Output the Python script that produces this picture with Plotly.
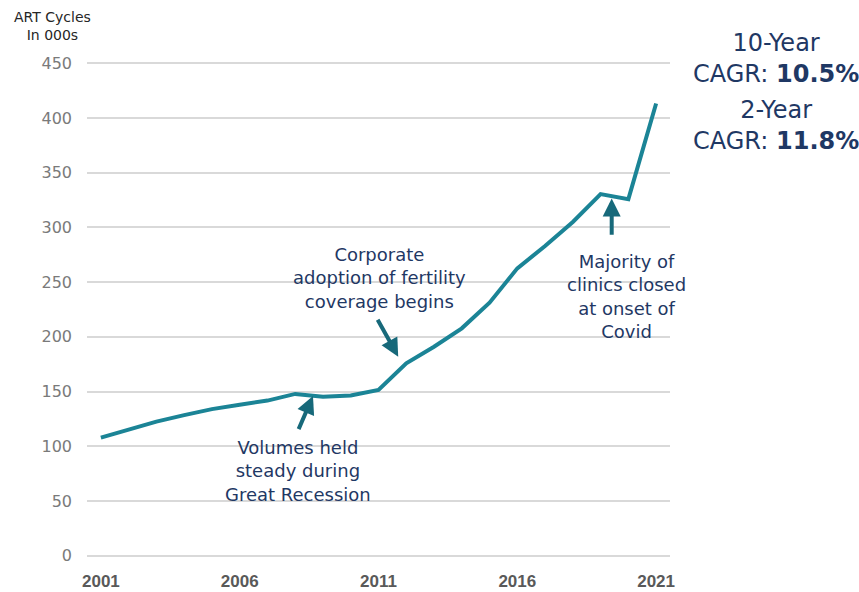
import plotly.graph_objects as go

# ART cycles per year (thousands)
years = list(range(2001, 2022))
cycles = [108, 115, 122.6, 128.5, 134, 138, 141.8, 147.9, 145.3, 146.5, 151.5,
          175.9, 191, 207.8, 231.2, 262.6, 283, 305, 330.4, 325.8, 413.2]

y_ticks = [0, 50, 100, 150, 200, 250, 300, 350, 400, 450]
x_ticks = [2001, 2006, 2011, 2016, 2021]

LINE = "#1b8496"
ARROW = "#17697a"
NAVY = "#1f3864"
TXT_FONT = "DejaVu Sans"

fig = go.Figure()
fig.add_trace(go.Scatter(
    x=years, y=cycles, mode="lines",
    line=dict(color=LINE, width=4), hoverinfo="skip", showlegend=False,
))

anns = []

# callout texts
callouts = [
    (2008.1, 77.6, "Volumes held<br>steady during<br>Great Recession"),
    (2011.05, 253.7, "Corporate<br>adoption of fertility<br>coverage begins"),
    (2019.95, 237.3, "Majority of<br>clinics closed<br>at onset of<br>Covid"),
]
for x, y, t in callouts:
    anns.append(dict(x=x, y=y, xref="x", yref="y", text=t, showarrow=False,
                     xanchor="center", yanchor="middle", align="center",
                     font=dict(family=TXT_FONT, size=18, color=NAVY)))

# arrows pointing at the line (tail -> head)
arrows = [
    ((2008.1, 114.4), (2008.64, 146.0)),
    ((2010.94, 217.0), (2011.71, 181.9)),
    ((2019.4, 292.0), (2019.4, 326.5)),
]
for (tx, ty), (hx, hy) in arrows:
    anns.append(dict(x=hx, y=hy, ax=tx, ay=ty, xref="x", yref="y",
                     axref="x", ayref="y", text="", showarrow=True,
                     arrowhead=2, arrowsize=0.9, arrowwidth=4,
                     arrowcolor=ARROW, standoff=0, startstandoff=0))

# axis title in the top-left corner
anns.append(dict(x=52, y=26.5, xref="paper", yref="paper", text="ART Cycles<br>In 000s",
                 showarrow=False, xanchor="center", yanchor="middle", align="center",
                 font=dict(family=TXT_FONT, size=14, color="#262626")))

# CAGR summary boxes
cagr = [(58, "10-Year<br>CAGR: <b>10.5%</b>"), (126, "2-Year<br>CAGR: <b>11.8%</b>")]
for ypx, t in cagr:
    anns.append(dict(x=776, y=ypx, xref="paper", yref="paper", text=t,
                     showarrow=False, xanchor="center", yanchor="middle", align="center",
                     font=dict(family=TXT_FONT, size=24, color=NAVY)))

W, H = 859, 592
ML, MR, MT, MB = 87, 189, 61, 34
pw, ph = W - ML - MR, H - MT - MB
# convert pixel-placed paper annotations to paper fractions
for a in anns:
    if a.get("xref") == "paper":
        a["x"] = (a["x"] - ML) / pw
        a["y"] = 1 - (a["y"] - MT) / ph

fig.update_layout(
    width=W, height=H,
    margin=dict(l=ML, r=MR, t=MT, b=MB, pad=0, autoexpand=False),
    paper_bgcolor="white", plot_bgcolor="white",
    annotations=anns,
    xaxis=dict(range=[2000.5, 2021.5], tickmode="array", tickvals=x_ticks,
               ticktext=[str(v) for v in x_ticks], showgrid=False, zeroline=False,
               showline=False, ticks="", automargin=False,
               tickfont=dict(family="Liberation Sans", size=17,
                             color="#595959", weight="bold"),
               ticklabelstandoff=11),
    yaxis=dict(range=[-2, 452], tickmode="array", tickvals=y_ticks,
               ticktext=[str(v) for v in y_ticks], showgrid=True,
               gridcolor="#d9d9d9", gridwidth=1.5, zeroline=False, showline=False,
               ticks="", automargin=False,
               tickfont=dict(family=TXT_FONT, size=16, color="#7a7a7a"),
               ticklabelstandoff=14),
)

fig.write_html("out.html")
